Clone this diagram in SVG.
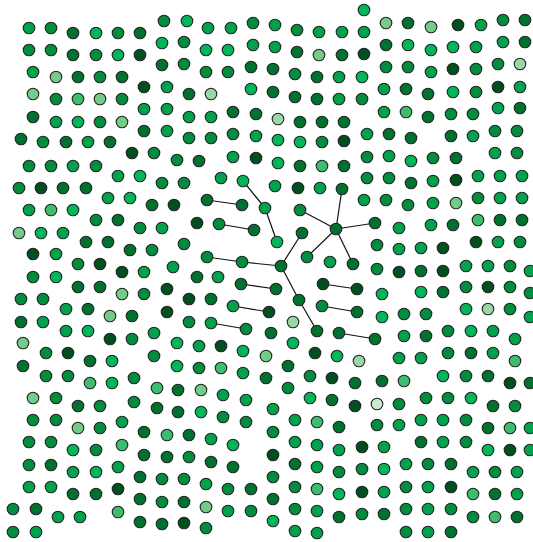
<svg xmlns="http://www.w3.org/2000/svg" width="533" height="542" viewBox="0 0 533 542">
<style>
circle{r:5.8px;stroke:#222;stroke-width:1.1}
.c1{fill:#00501f}.c2{fill:#00722f}.c3{fill:#008d3e}.c4{fill:#00a34c}.c5{fill:#00b65a}
.c6{fill:#74cb8a}.c6b{fill:#3dbd6e}.c7{fill:#96d9a4}.c8{fill:#cbeacf}
#edges line{stroke:#111;stroke-width:1.2}
</style>
<rect width="533" height="542" fill="#fff"/>
<g id="edges">
<line x1="243" y1="181" x2="265" y2="208"/>
<line x1="265" y1="208" x2="277" y2="242"/>
<line x1="207" y1="200" x2="242" y2="205"/>
<line x1="219" y1="224" x2="254" y2="230"/>
<line x1="207" y1="257" x2="242" y2="262"/>
<line x1="242" y1="262" x2="281" y2="266"/>
<line x1="281" y1="266" x2="302" y2="233"/>
<line x1="281" y1="266" x2="299" y2="300"/>
<line x1="299" y1="300" x2="317" y2="331"/>
<line x1="241" y1="284" x2="276" y2="289"/>
<line x1="233" y1="306" x2="269" y2="312"/>
<line x1="211" y1="323" x2="246" y2="329"/>
<line x1="323" y1="284" x2="357" y2="289"/>
<line x1="322" y1="306" x2="357" y2="312"/>
<line x1="339" y1="333" x2="375" y2="339"/>
<line x1="336" y1="229" x2="342" y2="189"/>
<line x1="336" y1="229" x2="300" y2="210"/>
<line x1="336" y1="229" x2="375" y2="223"/>
<line x1="336" y1="229" x2="307" y2="257"/>
<line x1="336" y1="229" x2="353" y2="264"/>
</g>
<g id="nodes">
<g id="n1"><circle class="c4" cx="29" cy="28"/></g>
<g id="n2"><circle class="c3" cx="51" cy="28"/></g>
<g id="n3"><circle class="c2" cx="73" cy="33"/></g>
<g id="n4"><circle class="c5" cx="96" cy="33"/></g>
<g id="n5"><circle class="c3" cx="118" cy="33"/></g>
<g id="n6"><circle class="c2" cx="140" cy="33"/></g>
<g id="n7"><circle class="c3" cx="164" cy="21"/></g>
<g id="n8"><circle class="c3" cx="29" cy="50"/></g>
<g id="n9"><circle class="c3" cx="51" cy="50"/></g>
<g id="n10"><circle class="c2" cx="73" cy="55"/></g>
<g id="n11"><circle class="c3" cx="96" cy="55"/></g>
<g id="n12"><circle class="c5" cx="118" cy="55"/></g>
<g id="n13"><circle class="c1" cx="140" cy="55"/></g>
<g id="n14"><circle class="c5" cx="162" cy="43"/></g>
<g id="n15"><circle class="c4" cx="33" cy="72"/></g>
<g id="n16"><circle class="c6" cx="56" cy="77"/></g>
<g id="n17"><circle class="c2" cx="78" cy="77"/></g>
<g id="n18"><circle class="c3" cx="100" cy="77"/></g>
<g id="n19"><circle class="c2" cx="122" cy="77"/></g>
<g id="n20"><circle class="c1" cx="144" cy="87"/></g>
<g id="n21"><circle class="c4" cx="167" cy="87"/></g>
<g id="n22"><circle class="c2" cx="162" cy="65"/></g>
<g id="n23"><circle class="c6" cx="33" cy="94"/></g>
<g id="n24"><circle class="c3" cx="56" cy="99"/></g>
<g id="n25"><circle class="c6b" cx="78" cy="99"/></g>
<g id="n26"><circle class="c6" cx="100" cy="99"/></g>
<g id="n27"><circle class="c3" cx="122" cy="99"/></g>
<g id="n28"><circle class="c4" cx="144" cy="109"/></g>
<g id="n29"><circle class="c4" cx="167" cy="109"/></g>
<g id="n30"><circle class="c2" cx="33" cy="117"/></g>
<g id="n31"><circle class="c4" cx="56" cy="122"/></g>
<g id="n32"><circle class="c5" cx="78" cy="122"/></g>
<g id="n33"><circle class="c3" cx="100" cy="122"/></g>
<g id="n34"><circle class="c6" cx="122" cy="122"/></g>
<g id="n35"><circle class="c2" cx="144" cy="131"/></g>
<g id="n36"><circle class="c4" cx="167" cy="131"/></g>
<g id="n37"><circle class="c2" cx="21" cy="139"/></g>
<g id="n38"><circle class="c3" cx="43" cy="142"/></g>
<g id="n39"><circle class="c2" cx="66" cy="142"/></g>
<g id="n40"><circle class="c4" cx="88" cy="142"/></g>
<g id="n41"><circle class="c2" cx="110" cy="142"/></g>
<g id="n42"><circle class="c1" cx="132" cy="153"/></g>
<g id="n43"><circle class="c3" cx="154" cy="153"/></g>
<g id="n44"><circle class="c3" cx="177" cy="160"/></g>
<g id="n45"><circle class="c3" cx="29" cy="166"/></g>
<g id="n46"><circle class="c3" cx="51" cy="166"/></g>
<g id="n47"><circle class="c4" cx="73" cy="166"/></g>
<g id="n48"><circle class="c3" cx="96" cy="166"/></g>
<g id="n49"><circle class="c4" cx="118" cy="176"/></g>
<g id="n50"><circle class="c5" cx="140" cy="176"/></g>
<g id="n51"><circle class="c3" cx="162" cy="183"/></g>
<g id="n52"><circle class="c3" cx="19" cy="188"/></g>
<g id="n53"><circle class="c1" cx="41" cy="188"/></g>
<g id="n54"><circle class="c2" cx="63" cy="188"/></g>
<g id="n55"><circle class="c2" cx="86" cy="188"/></g>
<g id="n56"><circle class="c4" cx="108" cy="198"/></g>
<g id="n57"><circle class="c5" cx="130" cy="198"/></g>
<g id="n58"><circle class="c2" cx="152" cy="205"/></g>
<g id="n59"><circle class="c1" cx="174" cy="205"/></g>
<g id="n60"><circle class="c4" cx="29" cy="210"/></g>
<g id="n61"><circle class="c6b" cx="51" cy="210"/></g>
<g id="n62"><circle class="c5" cx="73" cy="210"/></g>
<g id="n63"><circle class="c3" cx="96" cy="220"/></g>
<g id="n64"><circle class="c2" cx="118" cy="220"/></g>
<g id="n65"><circle class="c3" cx="140" cy="228"/></g>
<g id="n66"><circle class="c4" cx="162" cy="228"/></g>
<g id="n67"><circle class="c6" cx="19" cy="233"/></g>
<g id="n68"><circle class="c5" cx="41" cy="233"/></g>
<g id="n69"><circle class="c4" cx="63" cy="233"/></g>
<g id="n70"><circle class="c2" cx="86" cy="242"/></g>
<g id="n71"><circle class="c2" cx="108" cy="242"/></g>
<g id="n72"><circle class="c2" cx="130" cy="250"/></g>
<g id="n73"><circle class="c3" cx="152" cy="250"/></g>
<g id="n74"><circle class="c1" cx="33" cy="254"/></g>
<g id="n75"><circle class="c4" cx="56" cy="254"/></g>
<g id="n76"><circle class="c3" cx="78" cy="264"/></g>
<g id="n77"><circle class="c1" cx="100" cy="264"/></g>
<g id="n78"><circle class="c1" cx="122" cy="272"/></g>
<g id="n79"><circle class="c4" cx="144" cy="272"/></g>
<g id="n80"><circle class="c4" cx="173" cy="267"/></g>
<g id="n81"><circle class="c3" cx="33" cy="277"/></g>
<g id="n82"><circle class="c5" cx="56" cy="277"/></g>
<g id="n83"><circle class="c2" cx="78" cy="287"/></g>
<g id="n84"><circle class="c2" cx="100" cy="287"/></g>
<g id="n85"><circle class="c6" cx="122" cy="294"/></g>
<g id="n86"><circle class="c3" cx="144" cy="294"/></g>
<g id="n87"><circle class="c1" cx="167" cy="289"/></g>
<g id="n88"><circle class="c3" cx="21" cy="299"/></g>
<g id="n89"><circle class="c3" cx="43" cy="299"/></g>
<g id="n90"><circle class="c4" cx="66" cy="309"/></g>
<g id="n91"><circle class="c2" cx="88" cy="309"/></g>
<g id="n92"><circle class="c6" cx="110" cy="316"/></g>
<g id="n93"><circle class="c2" cx="132" cy="316"/></g>
<g id="n94"><circle class="c1" cx="167" cy="312"/></g>
<g id="n95"><circle class="c2" cx="21" cy="322"/></g>
<g id="n96"><circle class="c4" cx="43" cy="322"/></g>
<g id="n97"><circle class="c4" cx="66" cy="331"/></g>
<g id="n98"><circle class="c5" cx="88" cy="331"/></g>
<g id="n99"><circle class="c1" cx="110" cy="339"/></g>
<g id="n100"><circle class="c3" cx="132" cy="339"/></g>
<g id="n101"><circle class="c4" cx="154" cy="333"/></g>
<g id="n102"><circle class="c5" cx="177" cy="343"/></g>
<g id="n103"><circle class="c6" cx="23" cy="343"/></g>
<g id="n104"><circle class="c3" cx="46" cy="353"/></g>
<g id="n105"><circle class="c1" cx="68" cy="353"/></g>
<g id="n106"><circle class="c2" cx="90" cy="361"/></g>
<g id="n107"><circle class="c5" cx="112" cy="361"/></g>
<g id="n108"><circle class="c3" cx="154" cy="356"/></g>
<g id="n109"><circle class="c5" cx="177" cy="366"/></g>
<g id="n110"><circle class="c2" cx="23" cy="366"/></g>
<g id="n111"><circle class="c3" cx="46" cy="376"/></g>
<g id="n112"><circle class="c3" cx="68" cy="376"/></g>
<g id="n113"><circle class="c6b" cx="90" cy="383"/></g>
<g id="n114"><circle class="c5" cx="112" cy="383"/></g>
<g id="n115"><circle class="c3" cx="134" cy="378"/></g>
<g id="n116"><circle class="c6b" cx="157" cy="388"/></g>
<g id="n117"><circle class="c2" cx="178" cy="390"/></g>
<g id="n118"><circle class="c6" cx="33" cy="398"/></g>
<g id="n119"><circle class="c3" cx="56" cy="398"/></g>
<g id="n120"><circle class="c2" cx="78" cy="406"/></g>
<g id="n121"><circle class="c3" cx="100" cy="406"/></g>
<g id="n122"><circle class="c3" cx="134" cy="402"/></g>
<g id="n123"><circle class="c2" cx="157" cy="408"/></g>
<g id="n124"><circle class="c2" cx="178" cy="412"/></g>
<g id="n125"><circle class="c3" cx="33" cy="420"/></g>
<g id="n126"><circle class="c3" cx="56" cy="420"/></g>
<g id="n127"><circle class="c6" cx="78" cy="428"/></g>
<g id="n128"><circle class="c3" cx="100" cy="428"/></g>
<g id="n129"><circle class="c4" cx="122" cy="422"/></g>
<g id="n130"><circle class="c2" cx="144" cy="432"/></g>
<g id="n131"><circle class="c6b" cx="167" cy="435"/></g>
<g id="n132"><circle class="c3" cx="29" cy="442"/></g>
<g id="n133"><circle class="c3" cx="51" cy="442"/></g>
<g id="n134"><circle class="c5" cx="73" cy="450"/></g>
<g id="n135"><circle class="c3" cx="96" cy="450"/></g>
<g id="n136"><circle class="c6b" cx="122" cy="445"/></g>
<g id="n137"><circle class="c2" cx="144" cy="455"/></g>
<g id="n138"><circle class="c2" cx="167" cy="457"/></g>
<g id="n139"><circle class="c3" cx="29" cy="465"/></g>
<g id="n140"><circle class="c2" cx="51" cy="465"/></g>
<g id="n141"><circle class="c4" cx="73" cy="472"/></g>
<g id="n142"><circle class="c5" cx="96" cy="472"/></g>
<g id="n143"><circle class="c4" cx="118" cy="467"/></g>
<g id="n144"><circle class="c2" cx="140" cy="477"/></g>
<g id="n145"><circle class="c3" cx="162" cy="479"/></g>
<g id="n146"><circle class="c4" cx="29" cy="487"/></g>
<g id="n147"><circle class="c4" cx="51" cy="487"/></g>
<g id="n148"><circle class="c2" cx="73" cy="494"/></g>
<g id="n149"><circle class="c2" cx="96" cy="494"/></g>
<g id="n150"><circle class="c1" cx="118" cy="489"/></g>
<g id="n151"><circle class="c2" cx="140" cy="499"/></g>
<g id="n152"><circle class="c3" cx="162" cy="502"/></g>
<g id="n153"><circle class="c3" cx="13" cy="509"/></g>
<g id="n154"><circle class="c2" cx="36" cy="509"/></g>
<g id="n155"><circle class="c4" cx="58" cy="517"/></g>
<g id="n156"><circle class="c4" cx="80" cy="517"/></g>
<g id="n157"><circle class="c6b" cx="118" cy="512"/></g>
<g id="n158"><circle class="c2" cx="140" cy="522"/></g>
<g id="n159"><circle class="c2" cx="162" cy="524"/></g>
<g id="n160"><circle class="c3" cx="13" cy="532"/></g>
<g id="n161"><circle class="c4" cx="36" cy="532"/></g>
<g id="n162"><circle class="c5" cx="187" cy="21"/></g>
<g id="n163"><circle class="c4" cx="208" cy="28"/></g>
<g id="n164"><circle class="c4" cx="231" cy="28"/></g>
<g id="n165"><circle class="c3" cx="253" cy="23"/></g>
<g id="n166"><circle class="c4" cx="275" cy="25"/></g>
<g id="n167"><circle class="c3" cx="297" cy="30"/></g>
<g id="n168"><circle class="c4" cx="319" cy="32"/></g>
<g id="n169"><circle class="c4" cx="342" cy="32"/></g>
<g id="n170"><circle class="c3" cx="184" cy="42"/></g>
<g id="n171"><circle class="c5" cx="206" cy="50"/></g>
<g id="n172"><circle class="c5" cx="228" cy="50"/></g>
<g id="n173"><circle class="c4" cx="253" cy="45"/></g>
<g id="n174"><circle class="c4" cx="275" cy="47"/></g>
<g id="n175"><circle class="c2" cx="297" cy="52"/></g>
<g id="n176"><circle class="c6" cx="319" cy="55"/></g>
<g id="n177"><circle class="c2" cx="342" cy="55"/></g>
<g id="n178"><circle class="c3" cx="184" cy="64"/></g>
<g id="n179"><circle class="c3" cx="206" cy="72"/></g>
<g id="n180"><circle class="c3" cx="228" cy="72"/></g>
<g id="n181"><circle class="c2" cx="251" cy="67"/></g>
<g id="n182"><circle class="c2" cx="273" cy="69"/></g>
<g id="n183"><circle class="c3" cx="295" cy="74"/></g>
<g id="n184"><circle class="c2" cx="317" cy="77"/></g>
<g id="n185"><circle class="c4" cx="339" cy="77"/></g>
<g id="n186"><circle class="c2" cx="189" cy="94"/></g>
<g id="n187"><circle class="c7" cx="211" cy="94"/></g>
<g id="n188"><circle class="c5" cx="251" cy="89"/></g>
<g id="n189"><circle class="c2" cx="273" cy="92"/></g>
<g id="n190"><circle class="c2" cx="295" cy="97"/></g>
<g id="n191"><circle class="c2" cx="317" cy="99"/></g>
<g id="n192"><circle class="c4" cx="339" cy="99"/></g>
<g id="n193"><circle class="c4" cx="189" cy="117"/></g>
<g id="n194"><circle class="c4" cx="211" cy="117"/></g>
<g id="n195"><circle class="c2" cx="233" cy="112"/></g>
<g id="n196"><circle class="c2" cx="256" cy="114"/></g>
<g id="n197"><circle class="c7" cx="278" cy="119"/></g>
<g id="n198"><circle class="c2" cx="300" cy="122"/></g>
<g id="n199"><circle class="c2" cx="322" cy="122"/></g>
<g id="n200"><circle class="c2" cx="344" cy="122"/></g>
<g id="n201"><circle class="c3" cx="189" cy="138"/></g>
<g id="n202"><circle class="c3" cx="211" cy="138"/></g>
<g id="n203"><circle class="c3" cx="233" cy="134"/></g>
<g id="n204"><circle class="c4" cx="256" cy="136"/></g>
<g id="n205"><circle class="c5" cx="278" cy="140"/></g>
<g id="n206"><circle class="c5" cx="300" cy="142"/></g>
<g id="n207"><circle class="c3" cx="322" cy="142"/></g>
<g id="n208"><circle class="c1" cx="344" cy="141"/></g>
<g id="n209"><circle class="c2" cx="199" cy="161"/></g>
<g id="n210"><circle class="c4" cx="233" cy="157"/></g>
<g id="n211"><circle class="c1" cx="256" cy="158"/></g>
<g id="n212"><circle class="c5" cx="278" cy="163"/></g>
<g id="n213"><circle class="c2" cx="300" cy="166"/></g>
<g id="n214"><circle class="c6b" cx="322" cy="166"/></g>
<g id="n215"><circle class="c2" cx="344" cy="166"/></g>
<g id="n216"><circle class="c3" cx="184" cy="183"/></g>
<g id="n217"><circle class="c4" cx="221" cy="178"/></g>
<g id="n218"><circle class="c5" cx="243" cy="181"/></g>
<g id="n219"><circle class="c4" cx="275" cy="186"/></g>
<g id="n220"><circle class="c1" cx="298" cy="188"/></g>
<g id="n221"><circle class="c4" cx="320" cy="188"/></g>
<g id="n222"><circle class="c2" cx="342" cy="189"/></g>
<g id="n223"><circle class="c2" cx="207" cy="200"/></g>
<g id="n224"><circle class="c2" cx="242" cy="205"/></g>
<g id="n225"><circle class="c4" cx="265" cy="208"/></g>
<g id="n226"><circle class="c3" cx="300" cy="210"/></g>
<g id="n227"><circle class="c2" cx="336" cy="229"/></g>
<g id="n228"><circle class="c1" cx="197" cy="223"/></g>
<g id="n229"><circle class="c3" cx="219" cy="224"/></g>
<g id="n230"><circle class="c2" cx="254" cy="230"/></g>
<g id="n231"><circle class="c5" cx="277" cy="242"/></g>
<g id="n232"><circle class="c2" cx="302" cy="233"/></g>
<g id="n233"><circle class="c3" cx="184" cy="244"/></g>
<g id="n234"><circle class="c3" cx="207" cy="257"/></g>
<g id="n235"><circle class="c3" cx="242" cy="262"/></g>
<g id="n236"><circle class="c2" cx="281" cy="266"/></g>
<g id="n237"><circle class="c3" cx="307" cy="257"/></g>
<g id="n238"><circle class="c4" cx="330" cy="262"/></g>
<g id="n239"><circle class="c2" cx="353" cy="264"/></g>
<g id="n240"><circle class="c3" cx="367" cy="157"/></g>
<g id="n241"><circle class="c4" cx="389" cy="156"/></g>
<g id="n242"><circle class="c5" cx="411" cy="161"/></g>
<g id="n243"><circle class="c3" cx="433" cy="158"/></g>
<g id="n244"><circle class="c2" cx="456" cy="158"/></g>
<g id="n245"><circle class="c4" cx="495" cy="153"/></g>
<g id="n246"><circle class="c3" cx="517" cy="153"/></g>
<g id="n247"><circle class="c3" cx="367" cy="178"/></g>
<g id="n248"><circle class="c3" cx="389" cy="178"/></g>
<g id="n249"><circle class="c2" cx="411" cy="183"/></g>
<g id="n250"><circle class="c4" cx="433" cy="181"/></g>
<g id="n251"><circle class="c1" cx="456" cy="180"/></g>
<g id="n252"><circle class="c4" cx="478" cy="176"/></g>
<g id="n253"><circle class="c4" cx="500" cy="176"/></g>
<g id="n254"><circle class="c4" cx="522" cy="176"/></g>
<g id="n255"><circle class="c4" cx="364" cy="200"/></g>
<g id="n256"><circle class="c3" cx="386" cy="200"/></g>
<g id="n257"><circle class="c3" cx="408" cy="205"/></g>
<g id="n258"><circle class="c4" cx="433" cy="203"/></g>
<g id="n259"><circle class="c6" cx="456" cy="203"/></g>
<g id="n260"><circle class="c3" cx="478" cy="198"/></g>
<g id="n261"><circle class="c4" cx="500" cy="198"/></g>
<g id="n262"><circle class="c4" cx="522" cy="198"/></g>
<g id="n263"><circle class="c2" cx="375" cy="223"/></g>
<g id="n264"><circle class="c4" cx="399" cy="228"/></g>
<g id="n265"><circle class="c4" cx="431" cy="225"/></g>
<g id="n266"><circle class="c2" cx="453" cy="225"/></g>
<g id="n267"><circle class="c6b" cx="478" cy="220"/></g>
<g id="n268"><circle class="c2" cx="500" cy="220"/></g>
<g id="n269"><circle class="c2" cx="522" cy="220"/></g>
<g id="n270"><circle class="c3" cx="377" cy="245"/></g>
<g id="n271"><circle class="c4" cx="399" cy="249"/></g>
<g id="n272"><circle class="c4" cx="421" cy="248"/></g>
<g id="n273"><circle class="c1" cx="443" cy="248"/></g>
<g id="n274"><circle class="c1" cx="476" cy="242"/></g>
<g id="n275"><circle class="c4" cx="498" cy="242"/></g>
<g id="n276"><circle class="c3" cx="520" cy="242"/></g>
<g id="n277"><circle class="c3" cx="377" cy="269"/></g>
<g id="n278"><circle class="c1" cx="399" cy="272"/></g>
<g id="n279"><circle class="c2" cx="421" cy="271"/></g>
<g id="n280"><circle class="c1" cx="443" cy="271"/></g>
<g id="n281"><circle class="c4" cx="466" cy="266"/></g>
<g id="n282"><circle class="c4" cx="488" cy="266"/></g>
<g id="n283"><circle class="c3" cx="510" cy="266"/></g>
<g id="n284"><circle class="c5" cx="364" cy="10"/></g>
<g id="n285"><circle class="c6" cx="386" cy="23"/></g>
<g id="n286"><circle class="c2" cx="408" cy="23"/></g>
<g id="n287"><circle class="c6" cx="431" cy="27"/></g>
<g id="n288"><circle class="c1" cx="458" cy="25"/></g>
<g id="n289"><circle class="c4" cx="481" cy="25"/></g>
<g id="n290"><circle class="c3" cx="503" cy="20"/></g>
<g id="n291"><circle class="c2" cx="525" cy="20"/></g>
<g id="n292"><circle class="c4" cx="364" cy="32"/></g>
<g id="n293"><circle class="c2" cx="386" cy="45"/></g>
<g id="n294"><circle class="c5" cx="408" cy="45"/></g>
<g id="n295"><circle class="c5" cx="431" cy="50"/></g>
<g id="n296"><circle class="c5" cx="453" cy="47"/></g>
<g id="n297"><circle class="c4" cx="476" cy="47"/></g>
<g id="n298"><circle class="c4" cx="503" cy="42"/></g>
<g id="n299"><circle class="c2" cx="525" cy="42"/></g>
<g id="n300"><circle class="c1" cx="364" cy="54"/></g>
<g id="n301"><circle class="c3" cx="386" cy="67"/></g>
<g id="n302"><circle class="c3" cx="408" cy="67"/></g>
<g id="n303"><circle class="c4" cx="431" cy="72"/></g>
<g id="n304"><circle class="c1" cx="453" cy="69"/></g>
<g id="n305"><circle class="c3" cx="476" cy="69"/></g>
<g id="n306"><circle class="c3" cx="498" cy="64"/></g>
<g id="n307"><circle class="c7" cx="520" cy="64"/></g>
<g id="n308"><circle class="c5" cx="362" cy="77"/></g>
<g id="n309"><circle class="c4" cx="384" cy="89"/></g>
<g id="n310"><circle class="c2" cx="406" cy="89"/></g>
<g id="n311"><circle class="c2" cx="428" cy="94"/></g>
<g id="n312"><circle class="c5" cx="453" cy="92"/></g>
<g id="n313"><circle class="c3" cx="476" cy="92"/></g>
<g id="n314"><circle class="c1" cx="498" cy="87"/></g>
<g id="n315"><circle class="c4" cx="520" cy="87"/></g>
<g id="n316"><circle class="c3" cx="362" cy="99"/></g>
<g id="n317"><circle class="c4" cx="384" cy="112"/></g>
<g id="n318"><circle class="c6b" cx="406" cy="112"/></g>
<g id="n319"><circle class="c2" cx="428" cy="117"/></g>
<g id="n320"><circle class="c3" cx="451" cy="114"/></g>
<g id="n321"><circle class="c3" cx="473" cy="114"/></g>
<g id="n322"><circle class="c4" cx="498" cy="108"/></g>
<g id="n323"><circle class="c2" cx="520" cy="108"/></g>
<g id="n324"><circle class="c4" cx="367" cy="134"/></g>
<g id="n325"><circle class="c2" cx="389" cy="134"/></g>
<g id="n326"><circle class="c2" cx="411" cy="138"/></g>
<g id="n327"><circle class="c2" cx="451" cy="136"/></g>
<g id="n328"><circle class="c4" cx="473" cy="136"/></g>
<g id="n329"><circle class="c3" cx="495" cy="131"/></g>
<g id="n330"><circle class="c3" cx="517" cy="131"/></g>
<g id="n331"><circle class="c2" cx="197" cy="277"/></g>
<g id="n332"><circle class="c4" cx="218" cy="277"/></g>
<g id="n333"><circle class="c2" cx="241" cy="284"/></g>
<g id="n334"><circle class="c2" cx="276" cy="289"/></g>
<g id="n335"><circle class="c1" cx="323" cy="284"/></g>
<g id="n336"><circle class="c1" cx="189" cy="299"/></g>
<g id="n337"><circle class="c2" cx="211" cy="299"/></g>
<g id="n338"><circle class="c4" cx="233" cy="306"/></g>
<g id="n339"><circle class="c1" cx="269" cy="312"/></g>
<g id="n340"><circle class="c2" cx="299" cy="300"/></g>
<g id="n341"><circle class="c3" cx="322" cy="306"/></g>
<g id="n342"><circle class="c3" cx="189" cy="322"/></g>
<g id="n343"><circle class="c4" cx="211" cy="323"/></g>
<g id="n344"><circle class="c3" cx="246" cy="329"/></g>
<g id="n345"><circle class="c2" cx="271" cy="333"/></g>
<g id="n346"><circle class="c7" cx="293" cy="322"/></g>
<g id="n347"><circle class="c2" cx="317" cy="331"/></g>
<g id="n348"><circle class="c2" cx="339" cy="333"/></g>
<g id="n349"><circle class="c4" cx="199" cy="346"/></g>
<g id="n350"><circle class="c1" cx="221" cy="346"/></g>
<g id="n351"><circle class="c5" cx="243" cy="351"/></g>
<g id="n352"><circle class="c6" cx="266" cy="356"/></g>
<g id="n353"><circle class="c5" cx="293" cy="343"/></g>
<g id="n354"><circle class="c1" cx="315" cy="353"/></g>
<g id="n355"><circle class="c5" cx="337" cy="356"/></g>
<g id="n356"><circle class="c3" cx="199" cy="368"/></g>
<g id="n357"><circle class="c6b" cx="221" cy="368"/></g>
<g id="n358"><circle class="c4" cx="243" cy="373"/></g>
<g id="n359"><circle class="c2" cx="266" cy="378"/></g>
<g id="n360"><circle class="c2" cx="288" cy="366"/></g>
<g id="n361"><circle class="c3" cx="310" cy="376"/></g>
<g id="n362"><circle class="c1" cx="332" cy="378"/></g>
<g id="n363"><circle class="c6" cx="201" cy="390"/></g>
<g id="n364"><circle class="c4" cx="223" cy="395"/></g>
<g id="n365"><circle class="c4" cx="246" cy="400"/></g>
<g id="n366"><circle class="c3" cx="288" cy="388"/></g>
<g id="n367"><circle class="c5" cx="310" cy="398"/></g>
<g id="n368"><circle class="c2" cx="332" cy="400"/></g>
<g id="n369"><circle class="c1" cx="357" cy="289"/></g>
<g id="n370"><circle class="c5" cx="382" cy="294"/></g>
<g id="n371"><circle class="c5" cx="421" cy="292"/></g>
<g id="n372"><circle class="c2" cx="443" cy="292"/></g>
<g id="n373"><circle class="c3" cx="466" cy="287"/></g>
<g id="n374"><circle class="c1" cx="488" cy="287"/></g>
<g id="n375"><circle class="c3" cx="510" cy="287"/></g>
<g id="n376"><circle class="c2" cx="357" cy="312"/></g>
<g id="n377"><circle class="c5" cx="382" cy="317"/></g>
<g id="n378"><circle class="c3" cx="404" cy="314"/></g>
<g id="n379"><circle class="c3" cx="426" cy="314"/></g>
<g id="n380"><circle class="c5" cx="466" cy="309"/></g>
<g id="n381"><circle class="c7" cx="488" cy="309"/></g>
<g id="n382"><circle class="c3" cx="510" cy="309"/></g>
<g id="n383"><circle class="c2" cx="375" cy="339"/></g>
<g id="n384"><circle class="c4" cx="404" cy="336"/></g>
<g id="n385"><circle class="c2" cx="426" cy="336"/></g>
<g id="n386"><circle class="c3" cx="448" cy="331"/></g>
<g id="n387"><circle class="c5" cx="471" cy="331"/></g>
<g id="n388"><circle class="c4" cx="493" cy="331"/></g>
<g id="n389"><circle class="c4" cx="515" cy="339"/></g>
<g id="n390"><circle class="c7" cx="359" cy="361"/></g>
<g id="n391"><circle class="c4" cx="399" cy="358"/></g>
<g id="n392"><circle class="c4" cx="421" cy="358"/></g>
<g id="n393"><circle class="c3" cx="448" cy="353"/></g>
<g id="n394"><circle class="c2" cx="471" cy="353"/></g>
<g id="n395"><circle class="c4" cx="493" cy="353"/></g>
<g id="n396"><circle class="c6b" cx="515" cy="361"/></g>
<g id="n397"><circle class="c2" cx="355" cy="383"/></g>
<g id="n398"><circle class="c2" cx="382" cy="381"/></g>
<g id="n399"><circle class="c6b" cx="404" cy="381"/></g>
<g id="n400"><circle class="c5" cx="443" cy="376"/></g>
<g id="n401"><circle class="c3" cx="466" cy="376"/></g>
<g id="n402"><circle class="c2" cx="488" cy="376"/></g>
<g id="n403"><circle class="c1" cx="510" cy="383"/></g>
<g id="n404"><circle class="c1" cx="355" cy="406"/></g>
<g id="n405"><circle class="c8" cx="377" cy="404"/></g>
<g id="n406"><circle class="c3" cx="399" cy="404"/></g>
<g id="n407"><circle class="c3" cx="426" cy="398"/></g>
<g id="n408"><circle class="c3" cx="448" cy="398"/></g>
<g id="n409"><circle class="c5" cx="471" cy="398"/></g>
<g id="n410"><circle class="c2" cx="493" cy="406"/></g>
<g id="n411"><circle class="c3" cx="515" cy="406"/></g>
<g id="n412"><circle class="c5" cx="201" cy="412"/></g>
<g id="n413"><circle class="c3" cx="223" cy="417"/></g>
<g id="n414"><circle class="c3" cx="246" cy="422"/></g>
<g id="n415"><circle class="c4" cx="273" cy="409"/></g>
<g id="n416"><circle class="c4" cx="295" cy="420"/></g>
<g id="n417"><circle class="c6b" cx="317" cy="422"/></g>
<g id="n418"><circle class="c2" cx="339" cy="427"/></g>
<g id="n419"><circle class="c2" cx="189" cy="435"/></g>
<g id="n420"><circle class="c4" cx="211" cy="439"/></g>
<g id="n421"><circle class="c5" cx="233" cy="445"/></g>
<g id="n422"><circle class="c3" cx="273" cy="432"/></g>
<g id="n423"><circle class="c4" cx="295" cy="442"/></g>
<g id="n424"><circle class="c4" cx="317" cy="445"/></g>
<g id="n425"><circle class="c4" cx="339" cy="450"/></g>
<g id="n426"><circle class="c3" cx="189" cy="457"/></g>
<g id="n427"><circle class="c2" cx="211" cy="462"/></g>
<g id="n428"><circle class="c2" cx="233" cy="467"/></g>
<g id="n429"><circle class="c1" cx="273" cy="455"/></g>
<g id="n430"><circle class="c2" cx="295" cy="464"/></g>
<g id="n431"><circle class="c4" cx="317" cy="467"/></g>
<g id="n432"><circle class="c3" cx="339" cy="472"/></g>
<g id="n433"><circle class="c3" cx="184" cy="479"/></g>
<g id="n434"><circle class="c4" cx="206" cy="484"/></g>
<g id="n435"><circle class="c3" cx="228" cy="489"/></g>
<g id="n436"><circle class="c2" cx="251" cy="489"/></g>
<g id="n437"><circle class="c3" cx="273" cy="477"/></g>
<g id="n438"><circle class="c3" cx="295" cy="487"/></g>
<g id="n439"><circle class="c6b" cx="317" cy="489"/></g>
<g id="n440"><circle class="c5" cx="339" cy="494"/></g>
<g id="n441"><circle class="c2" cx="184" cy="502"/></g>
<g id="n442"><circle class="c6" cx="206" cy="507"/></g>
<g id="n443"><circle class="c4" cx="228" cy="511"/></g>
<g id="n444"><circle class="c3" cx="251" cy="511"/></g>
<g id="n445"><circle class="c2" cx="273" cy="499"/></g>
<g id="n446"><circle class="c3" cx="295" cy="509"/></g>
<g id="n447"><circle class="c4" cx="317" cy="511"/></g>
<g id="n448"><circle class="c2" cx="339" cy="517"/></g>
<g id="n449"><circle class="c1" cx="184" cy="523"/></g>
<g id="n450"><circle class="c3" cx="206" cy="528"/></g>
<g id="n451"><circle class="c5" cx="273" cy="521"/></g>
<g id="n452"><circle class="c4" cx="295" cy="531"/></g>
<g id="n453"><circle class="c4" cx="317" cy="533"/></g>
<g id="n454"><circle class="c3" cx="377" cy="425"/></g>
<g id="n455"><circle class="c4" cx="399" cy="425"/></g>
<g id="n456"><circle class="c4" cx="421" cy="420"/></g>
<g id="n457"><circle class="c4" cx="443" cy="420"/></g>
<g id="n458"><circle class="c3" cx="466" cy="420"/></g>
<g id="n459"><circle class="c2" cx="488" cy="428"/></g>
<g id="n460"><circle class="c6b" cx="510" cy="428"/></g>
<g id="n461"><circle class="c4" cx="530" cy="428"/></g>
<g id="n462"><circle class="c1" cx="362" cy="447"/></g>
<g id="n463"><circle class="c4" cx="384" cy="447"/></g>
<g id="n464"><circle class="c2" cx="421" cy="442"/></g>
<g id="n465"><circle class="c4" cx="443" cy="442"/></g>
<g id="n466"><circle class="c3" cx="466" cy="442"/></g>
<g id="n467"><circle class="c5" cx="488" cy="450"/></g>
<g id="n468"><circle class="c1" cx="510" cy="450"/></g>
<g id="n469"><circle class="c4" cx="530" cy="450"/></g>
<g id="n470"><circle class="c3" cx="362" cy="469"/></g>
<g id="n471"><circle class="c5" cx="384" cy="469"/></g>
<g id="n472"><circle class="c4" cx="406" cy="464"/></g>
<g id="n473"><circle class="c3" cx="428" cy="464"/></g>
<g id="n474"><circle class="c2" cx="451" cy="464"/></g>
<g id="n475"><circle class="c4" cx="473" cy="472"/></g>
<g id="n476"><circle class="c3" cx="495" cy="472"/></g>
<g id="n477"><circle class="c4" cx="517" cy="472"/></g>
<g id="n478"><circle class="c1" cx="362" cy="492"/></g>
<g id="n479"><circle class="c4" cx="384" cy="492"/></g>
<g id="n480"><circle class="c3" cx="406" cy="487"/></g>
<g id="n481"><circle class="c4" cx="428" cy="487"/></g>
<g id="n482"><circle class="c1" cx="451" cy="487"/></g>
<g id="n483"><circle class="c6b" cx="473" cy="494"/></g>
<g id="n484"><circle class="c2" cx="495" cy="494"/></g>
<g id="n485"><circle class="c4" cx="517" cy="494"/></g>
<g id="n486"><circle class="c3" cx="362" cy="514"/></g>
<g id="n487"><circle class="c2" cx="384" cy="514"/></g>
<g id="n488"><circle class="c3" cx="406" cy="509"/></g>
<g id="n489"><circle class="c4" cx="428" cy="509"/></g>
<g id="n490"><circle class="c3" cx="451" cy="509"/></g>
<g id="n491"><circle class="c3" cx="473" cy="517"/></g>
<g id="n492"><circle class="c6b" cx="495" cy="517"/></g>
<g id="n493"><circle class="c2" cx="517" cy="517"/></g>
<g id="n494"><circle class="c3" cx="406" cy="532"/></g>
<g id="n495"><circle class="c4" cx="428" cy="532"/></g>
<g id="n496"><circle class="c2" cx="451" cy="532"/></g>
<g id="n497"><circle class="c4" cx="530" cy="271"/></g>
<g id="n498"><circle class="c3" cx="530" cy="293"/></g>
<g id="n499"><circle class="c4" cx="530" cy="317"/></g>
<g id="n500"><circle class="c2" cx="530" cy="383"/></g>
</g>
</svg>
